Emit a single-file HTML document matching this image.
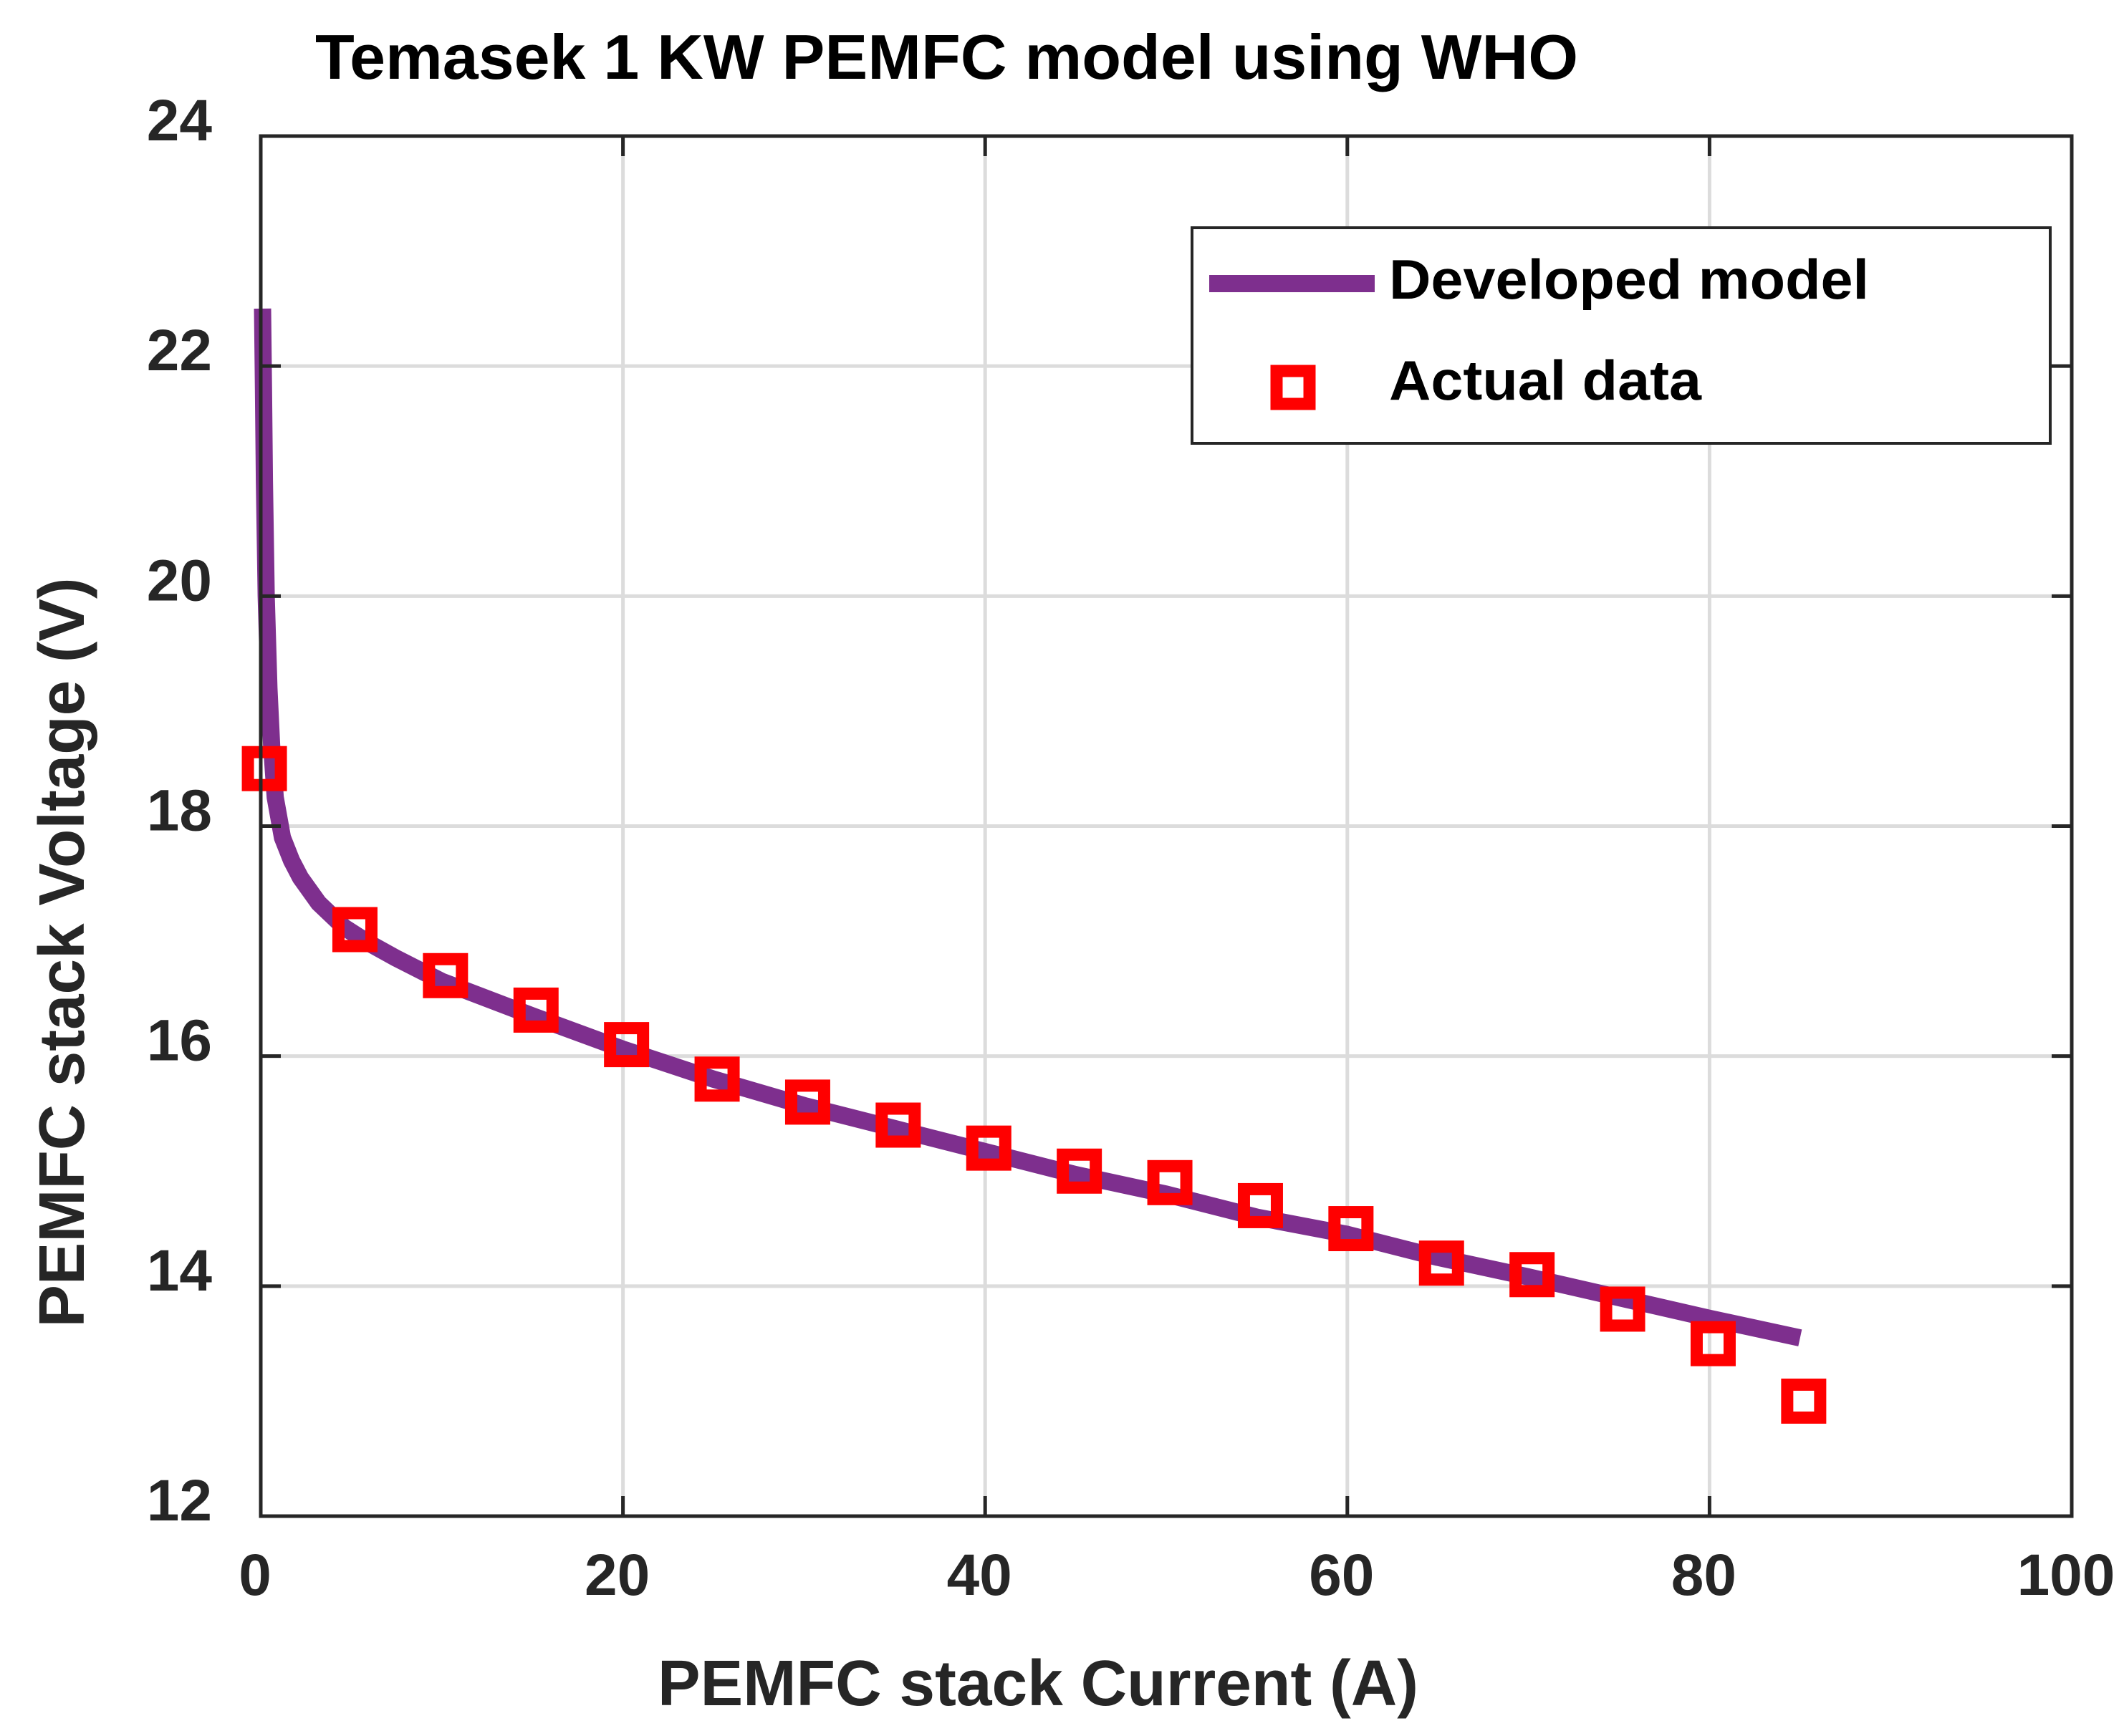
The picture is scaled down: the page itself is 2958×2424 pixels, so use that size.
<!DOCTYPE html>
<html><head><meta charset="utf-8">
<style>
html,body{margin:0;padding:0;background:#fff;}
svg{display:block;font-family:"Liberation Sans",Arial,sans-serif;font-weight:bold;}
</style></head>
<body>
<svg id="chart" width="2958" height="2424" viewBox="0 0 2958 2424" xmlns="http://www.w3.org/2000/svg">
<rect width="2958" height="2424" fill="#fff"/>
<g id="grid"></g>
<g id="series"></g>
<g id="axes"></g>
<text x="440" y="110" font-size="88" fill="#000" textLength="1763" lengthAdjust="spacingAndGlyphs">Temasek 1 KW PEMFC model using WHO</text>
<text x="1449" y="2381" font-size="90" fill="#262626" text-anchor="middle" textLength="1062" lengthAdjust="spacingAndGlyphs">PEMFC stack Current (A)</text>
<text transform="translate(117,1330) rotate(-90)" x="0" y="0" font-size="90" fill="#262626" text-anchor="middle" textLength="1047" lengthAdjust="spacingAndGlyphs">PEMFC stack Voltage (V)</text>
<g>
<rect x="1664" y="318" width="1198" height="301" fill="#fff" stroke="#262626" stroke-width="4"/>
<line x1="1688" y1="396" x2="1919" y2="396" stroke="#7E2F8E" stroke-width="24"/>
<text x="1939" y="417" font-size="78" fill="#000" textLength="670" lengthAdjust="spacingAndGlyphs">Developed model</text>
<rect x="1782" y="518" width="46" height="46" fill="none" stroke="#FF0000" stroke-width="17"/>
<text x="1939" y="558" font-size="78" fill="#000" textLength="436" lengthAdjust="spacingAndGlyphs">Actual data</text>
</g>
</svg>
<script>
const xTicks = [0, 20, 40, 60, 80, 100];
const yTicks = [12, 14, 16, 18, 20, 22, 24];
const modelCurrent = [0.1, 0.15, 0.2, 0.3, 0.45, 0.6, 0.8, 1.2, 1.7, 2.2, 3.2, 4.6, 6, 7.5, 10, 15, 20, 25, 30, 35, 40, 45, 50, 55, 60, 65, 70, 75, 80, 85];
const modelVoltage = [22.5, 21.8, 21.0, 20.0, 19.2, 18.7, 18.25, 17.9, 17.7, 17.55, 17.33, 17.12, 16.98, 16.85, 16.65, 16.35, 16.06, 15.8, 15.57, 15.37, 15.17, 14.97, 14.8, 14.6, 14.45, 14.25, 14.08, 13.9, 13.72, 13.55];
const dataCurrent = [0.2, 5.2, 10.2, 15.2, 20.2, 25.2, 30.2, 35.2, 40.2, 45.2, 50.2, 55.2, 60.2, 65.2, 70.2, 75.2, 80.2, 85.2];
const dataVoltage = [18.5, 17.1, 16.7, 16.4, 16.1, 15.8, 15.6, 15.4, 15.2, 15.0, 14.9, 14.7, 14.5, 14.2, 14.1, 13.8, 13.5, 13.0];

const L = 364, R = 2892, T = 190, B = 2117;
const xMin = 0, xMax = 100, yMin = 12, yMax = 24;
function sx(v){ return L + (v - xMin) / (xMax - xMin) * (R - L); }
function sy(v){ return B - (v - yMin) / (yMax - yMin) * (B - T); }
const NS = "http://www.w3.org/2000/svg";
function mk(tag, attrs, parent){
  const el = document.createElementNS(NS, tag);
  for (const k in attrs) el.setAttribute(k, attrs[k]);
  parent.appendChild(el);
  return el;
}
const grid = document.getElementById('grid');
const axes = document.getElementById('axes');
const series = document.getElementById('series');

xTicks.forEach(t => {
  const x = sx(t);
  if (t > xMin && t < xMax) {
    const g = mk('line', {x1:x, y1:T, x2:x, y2:B, stroke:'#dcdcdc', 'stroke-width':5}, grid);
    
    
  }
  const tk = mk('line', {x1:x, y1:B, x2:x, y2:B-28, stroke:'#262626', 'stroke-width':5}, axes);
  
  
  const tk2 = mk('line', {x1:x, y1:T, x2:x, y2:T+28, stroke:'#262626', 'stroke-width':5}, axes);
  
  
  const lb = mk('text', {x:x-8, y:2227, 'font-size':82, fill:'#262626', 'text-anchor':'middle'}, axes);
  lb.textContent = t;
  
  
});
yTicks.forEach(t => {
  const y = sy(t);
  if (t > yMin && t < yMax) {
    const g = mk('line', {x1:L, y1:y, x2:R, y2:y, stroke:'#dcdcdc', 'stroke-width':5}, grid);
    
    
  }
  const tk = mk('line', {x1:L, y1:y, x2:L+28, y2:y, stroke:'#262626', 'stroke-width':5}, axes);
  
  
  const tk2 = mk('line', {x1:R, y1:y, x2:R-28, y2:y, stroke:'#262626', 'stroke-width':5}, axes);
  
  
  const lb = mk('text', {x:296, y:y+6, 'font-size':82, fill:'#262626', 'text-anchor':'end'}, axes);
  lb.textContent = t;
  
  
});
const frame = mk('rect', {x:L, y:T, width:R-L, height:B-T, fill:'none', stroke:'#262626', 'stroke-width':5}, axes);



const pts = modelCurrent.map((c, i) => sx(c).toFixed(1) + ',' + sy(modelVoltage[i]).toFixed(1)).join(' ');
const line = mk('polyline', {points:pts, fill:'none', stroke:'#7E2F8E', 'stroke-width':24, 'stroke-linejoin':'round'}, series);



dataCurrent.forEach((c, i) => {
  const x = sx(c), y = sy(dataVoltage[i]);
  const m = mk('rect', {x:x-23, y:y-23, width:46, height:46, fill:'none', stroke:'#FF0000', 'stroke-width':17}, series);
  
  
});
</script>
</body></html>
